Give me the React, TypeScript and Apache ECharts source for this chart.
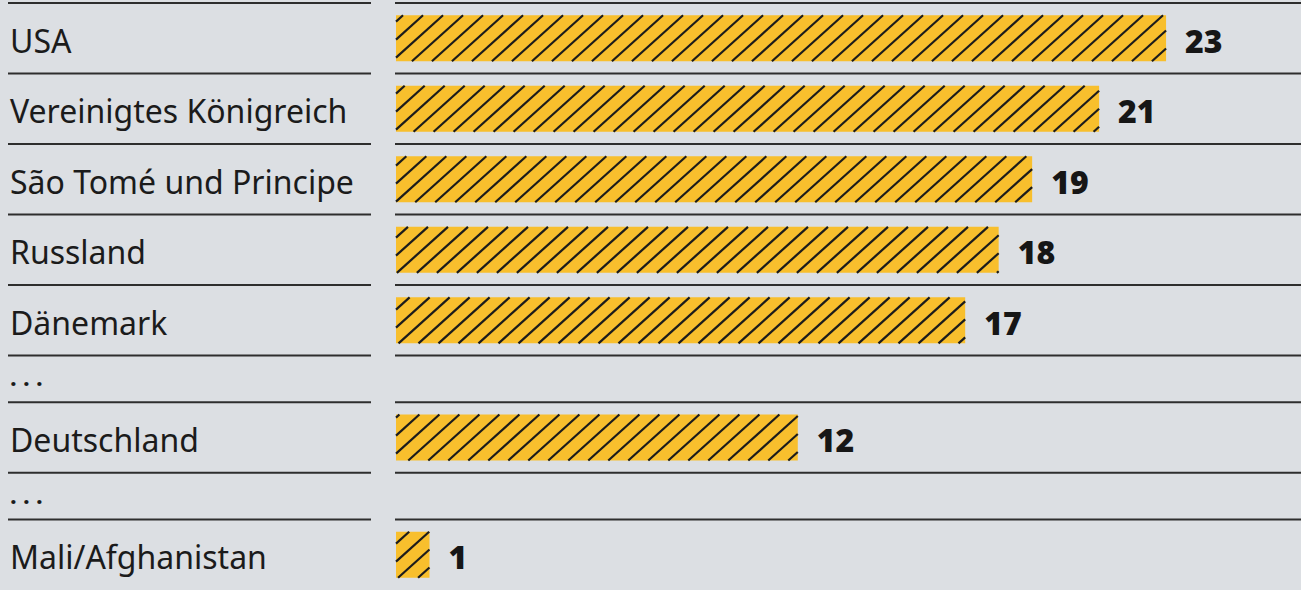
import React, { useEffect, useRef } from "react";
import * as echarts from "echarts";

const categories = [
  "USA",
  "Vereinigtes Königreich",
  "São Tomé und Principe",
  "Russland",
  "Dänemark",
  "…",
  "Deutschland",
  "…",
  "Mali/Afghanistan",
];
const values: (number | null)[] = [23, 21, 19, 18, 17, null, 12, null, 1];

// layout: relative row heights (ellipsis rows are shorter)
const rowUnits = categories.map((c) => (c === "…" ? 47 : 71));
const rowStart: number[] = [];
rowUnits.reduce((acc, h, i) => {
  rowStart[i] = acc;
  return acc + h;
}, 0);
const totalUnits = rowUnits.reduce((a, b) => a + b, 0);

const BG = "#dcdfe3";
const LINE = "#2e2e2e";
const BAR = "#f8bf2d";
const HATCH = "#1c1c1c";
const FONT = "'Noto Sans', sans-serif";

export default function App() {
  const ref = useRef<HTMLDivElement>(null);
  useEffect(() => {
    if (!ref.current) return;
    const chart = echarts.init(ref.current, null, { renderer: "svg" });
    const data = categories.map((c, i) => [i, values[i] ?? 0, values[i] == null ? 0 : 1]);
    chart.setOption({
      animation: false,
      backgroundColor: BG,
      grid: { left: 396, top: 3, width: 904, height: totalUnits },
      xAxis: { type: "value", min: 0, max: 27, show: false },
      yAxis: { type: "value", min: 0, max: totalUnits, inverse: true, show: false },
      series: [
        {
          type: "custom",
          clip: false,
          data,
          renderItem: (params: any, api: any) => {
            const i = api.value(0);
            const v = api.value(1);
            const has = api.value(2) === 1;
            const top = api.coord([0, rowStart[i]]);
            const bot = api.coord([0, rowStart[i] + rowUnits[i]]);
            const y0 = top[1];
            const yc = (top[1] + bot[1]) / 2;
            const children: any[] = [];
            // separator lines
            children.push({
              type: "line",
              shape: { x1: 8, y1: y0, x2: 371, y2: y0 },
              style: { stroke: LINE, lineWidth: 2 },
            });
            children.push({
              type: "line",
              shape: { x1: 395, y1: y0, x2: 1301, y2: y0 },
              style: { stroke: LINE, lineWidth: 2 },
            });
            // category label
            const isEll = categories[i] === "…";
            children.push({
              type: "text",
              x: 10,
              y: isEll ? yc + 4 : yc + 2,
              style: {
                text: isEll ? "· · ·" : categories[i],
                font: `${isEll ? "bold 24" : "32"}px ${FONT}`,
                fill: "#1b1b1b",
                verticalAlign: "middle",
                textAlign: "left",
              },
            });
            if (has) {
              const p0 = api.coord([0, 0]);
              const p1 = api.coord([v, 0]);
              const bx0 = p0[0];
              const bx1 = p1[0];
              const bh = 46;
              const by0 = yc - bh / 2;
              const by1 = yc + bh / 2;
              children.push({
                type: "rect",
                shape: { x: bx0, y: by0, width: bx1 - bx0, height: bh },
                style: { fill: BAR },
              });
              // hatch lines "/" : x + y/s = c
              const s = 0.9;
              const step = 20;
              const cMin = bx0 + by0 / s;
              const cMax = bx1 + by1 / s;
              const cStart = Math.floor(cMin / step) * step;
              for (let c = cStart; c <= cMax; c += step) {
                let ya = by0, yb = by1;
                let xa = c - ya / s, xb = c - yb / s;
                if (xa > bx1) {
                  ya = (c - bx1) * s;
                  xa = bx1;
                }
                if (xb < bx0) {
                  yb = (c - bx0) * s;
                  xb = bx0;
                }
                if (ya >= yb - 0.5) continue;
                children.push({
                  type: "line",
                  shape: { x1: xa, y1: ya, x2: xb, y2: yb },
                  style: { stroke: HATCH, lineWidth: 2.2 },
                });
              }
              children.push({
                type: "text",
                x: bx1 + 19,
                y: yc + 2,
                style: {
                  text: String(v),
                  font: `900 32px ${FONT}`,
                  fill: "#161616",
                  verticalAlign: "middle",
                  textAlign: "left",
                },
              });
            }
            return { type: "group", children };
          },
        },
      ],
    });
    return () => chart.dispose();
  }, []);
  return (
    <div
      ref={ref}
      style={{ position: "fixed", left: 0, top: 0, width: 1301, height: 590 }}
    />
  );
}
